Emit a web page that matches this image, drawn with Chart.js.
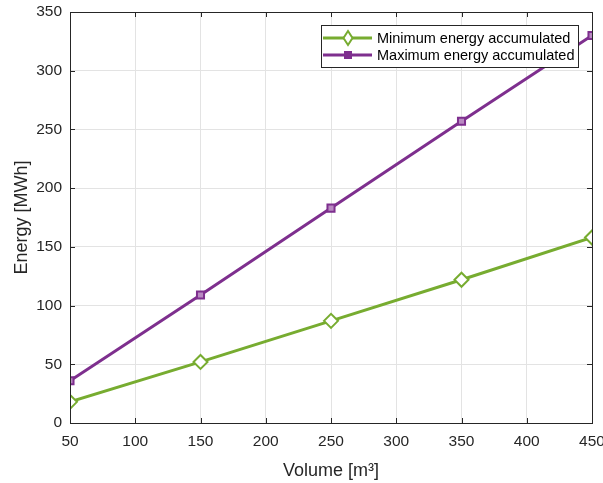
<!DOCTYPE html>
<html>
<head>
<meta charset="utf-8">
<script src="https://cdn.jsdelivr.net/npm/chart.js@4"></script>
<style>
  html, body { margin: 0; padding: 0; background: #fff; }
  #wrap { width: 603px; height: 483px; }
</style>
</head>
<body>
<div id="wrap"><canvas id="energyChart" width="603" height="483"></canvas></div>
<script>
// Energy accumulated vs storage volume

const volumes = [50, 150, 250, 350, 450];
const minEnergy = [18, 52, 87, 122, 158];
const maxEnergy = [36, 109, 183, 257, 330];
const seriesLabels = ['Minimum energy accumulated', 'Maximum energy accumulated'];

const GREEN = '#77AC30';
const PURPLE = '#7E2F8E';
const AXIS = '#262626';
const FONT = "'Liberation Sans', Arial, sans-serif";

// box around plot + inward ticks, MATLAB style
const boxPlugin = {
    id: 'boxPlugin',
    afterDraw(chart) {
        const { ctx, chartArea: a, scales } = chart;
        ctx.save();
        ctx.strokeStyle = AXIS;
        ctx.lineWidth = 1;
        ctx.beginPath();
        for (const t of scales.x.ticks) {
            const x = Math.round(scales.x.getPixelForValue(t.value)) + 0.5;
            ctx.moveTo(x, a.bottom); ctx.lineTo(x, a.bottom - 5);
            ctx.moveTo(x, a.top); ctx.lineTo(x, a.top + 5);
        }
        for (const t of scales.y.ticks) {
            const y = Math.round(scales.y.getPixelForValue(t.value)) + 0.5;
            ctx.moveTo(a.left, y); ctx.lineTo(a.left + 5, y);
            ctx.moveTo(a.right, y); ctx.lineTo(a.right - 5, y);
        }
        ctx.stroke();
        ctx.strokeRect(Math.round(a.left) + 0.5, Math.round(a.top) + 0.5,
            Math.round(a.right - a.left), Math.round(a.bottom - a.top));
        ctx.restore();
    }
};

// legend box inside top right corner
const legendPlugin = {
    id: 'legendPlugin',
    afterDraw(chart) {
        const { ctx, chartArea: a } = chart;
        const w = 257, h = 42;
        const x0 = a.right - 14 - w, y0 = a.top + 13;
        ctx.save();
        ctx.fillStyle = '#fff';
        ctx.fillRect(x0, y0, w, h);
        ctx.strokeStyle = AXIS;
        ctx.lineWidth = 1;
        ctx.strokeRect(x0 + 0.5, y0 + 0.5, w, h);
        ctx.font = '14.5px ' + FONT;
        ctx.textBaseline = 'middle';
        chart.data.datasets.forEach((ds, i) => {
            const y = y0 + 13 + i * 17;
            ctx.strokeStyle = ds.borderColor;
            ctx.lineWidth = 3;
            ctx.beginPath();
            ctx.moveTo(x0 + 2, y); ctx.lineTo(x0 + 51, y);
            ctx.stroke();
            const cx = x0 + 27;
            ctx.lineWidth = 2;
            ctx.fillStyle = '#fff';
            ctx.beginPath();
            if (ds.pointStyle === 'rectRot') {
                ctx.moveTo(cx, y - 7); ctx.lineTo(cx + 4.5, y); ctx.lineTo(cx, y + 7); ctx.lineTo(cx - 4.5, y); ctx.closePath();
                ctx.fill(); ctx.stroke();
            } else {
                ctx.rect(cx - 4, y - 4, 8, 8);
                ctx.fillStyle = ds.borderColor;
                ctx.fill();
            }
            ctx.fillStyle = '#000';
            ctx.fillText(ds.label, x0 + 56, y + 1);
        });
        ctx.restore();
    }
};

new Chart(document.getElementById('energyChart'), {
    type: 'line',
    data: {
        datasets: [{
            label: seriesLabels[0],
            data: volumes.map((v, i) => ({ x: v, y: minEnergy[i] })),
            borderColor: GREEN,
            backgroundColor: '#fff',
            borderWidth: 3,
            pointStyle: 'rectRot',
            pointRadius: 7,
            pointBorderWidth: 2,
            tension: 0
        }, {
            label: seriesLabels[1],
            data: volumes.map((v, i) => ({ x: v, y: maxEnergy[i] })),
            borderColor: PURPLE,
            backgroundColor: '#b98ac2',
            borderWidth: 3,
            pointStyle: 'rect',
            pointRadius: 5,
            pointBorderWidth: 2,
            tension: 0
        }]
    },
    options: {
        responsive: false,
        animation: false,
        layout: { padding: { top: 12, right: 11, left: 0, bottom: 0 } },
        scales: {
            x: {
                type: 'linear',
                min: 50,
                max: 450,
                afterFit(scale) {
                    scale.height = 60;
                    scale.paddingLeft = 0;
                    scale.paddingRight = 0;
                },
                grid: { color: '#e3e3e3', drawTicks: false },
                border: { display: false },
                ticks: {
                    stepSize: 50,
                    padding: 9,
                    color: AXIS,
                    font: { family: FONT, size: 15.5 }
                },
                title: {
                    display: true,
                    text: 'Volume [m³]',
                    color: AXIS,
                    padding: { top: 0, bottom: 1 },
                    font: { family: FONT, size: 18 }
                }
            },
            y: {
                min: 0,
                max: 350,
                afterFit(scale) {
                    scale.width = 70;
                    scale.paddingTop = 0;
                    scale.paddingBottom = 0;
                },
                grid: { color: '#e3e3e3', drawTicks: false },
                border: { display: false },
                ticks: {
                    stepSize: 50,
                    padding: 8,
                    color: AXIS,
                    font: { family: FONT, size: 15.5 }
                },
                title: {
                    display: true,
                    text: 'Energy [MWh]',
                    color: AXIS,
                    padding: { top: 11, bottom: 0 },
                    font: { family: FONT, size: 18 }
                }
            }
        },
        plugins: {
            legend: { display: false },
            tooltip: { enabled: false }
        }
    },
    plugins: [boxPlugin, legendPlugin]
});
</script>
</body>
</html>
